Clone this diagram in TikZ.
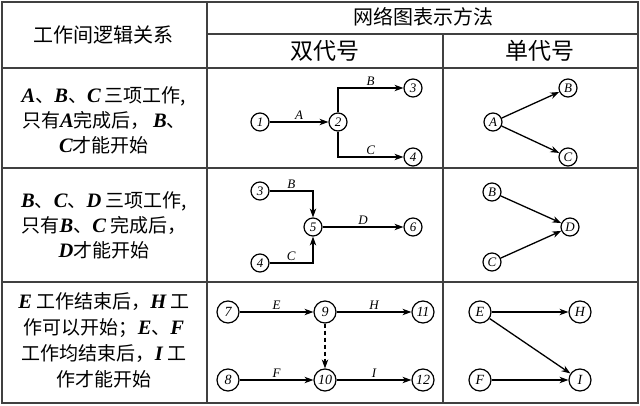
\documentclass[tikz,border=0pt]{standalone}
\usepackage{fontspec}
\setmainfont{Liberation Serif}
\newfontfamily\cjk{Noto Sans CJK SC}
\usetikzlibrary{arrows.meta}
\newcommand{\en}[1]{{\rmfamily\bfseries\itshape\fontsize{20.5}{25}\selectfont #1}}
\begin{document}
\begin{tikzpicture}[x=1pt,y=-1pt,
  grid/.style={draw=black!75, line width=1.6pt},
  ev/.style={circle, draw, line width=1.2pt, inner sep=0pt, minimum size=18pt, font=\fontsize{13}{13}\selectfont\itshape},
  evb/.style={ev, minimum size=22pt, font=\fontsize{14}{14}\selectfont\itshape},
  arr/.style={line width=1.3pt, -{Stealth[length=9pt,width=6.5pt]}},
  lab/.style={font=\fontsize{13}{13}\selectfont\itshape, inner sep=1.5pt, anchor=south},
  cell/.style={font=\cjk\fontsize{19}{25}\selectfont, align=center},
  head/.style={font=\cjk\fontsize{20}{24}\selectfont},
  headb/.style={font=\cjk\fontsize{23}{26}\selectfont}
]
\useasboundingbox (0,0) rectangle (640,406);
% grid
\draw[grid] (2,2) rectangle (638,403);
\draw[grid] (207,2) -- (207,403);
\draw[grid] (443,34) -- (443,403);
\draw[grid] (207,34) -- (638,34);
\draw[grid] (2,68) -- (638,68);
\draw[grid] (2,168) -- (638,168);
\draw[grid] (2,282) -- (638,282);
% header
\node[head] (h1) at (104,35) {工作间逻辑关系};
\node[head] (h2) at (423,17) {网络图表示方法};
\node[headb] (h3) at (325,51) {双代号};
\node[headb] (h4) at (540,51) {单代号};
% left column texts
\node[cell] (t1) at (104,120) {\en{A}、\en{B}、\en{C} 三项工作,\\只有\en{A}完成后，\,\en{B}、\\\en{C}才能开始};
\node[cell] (t2) at (104,225) {\en{B}、\en{C}、\en{D} 三项工作,\\只有\en{B}、\en{C} 完成后，\\\en{D}才能开始};
\node[cell, font=\cjk\fontsize{19}{26}\selectfont] (t3) at (104,340) {\en{E} 工作结束后，\en{H} 工\\作可以开始；\en{E}、\en{F}\\工作均结束后，\en{I} 工\\作才能开始};
% row 1 double
\node[ev] (a1) at (260,122) {1};
\node[ev] (a2) at (338,122) {2};
\node[ev] (a3) at (413,88) {3};
\node[ev] (a4) at (413,157) {4};
\draw[arr] (a1) -- node[lab]{A} (a2);
\draw[arr] (a2) |- node[lab,pos=0.75]{B} (a3);
\draw[arr] (a2) |- node[lab,pos=0.75]{C} (a4);
% row 1 single
\node[ev] (sA) at (493,122) {A};
\node[ev] (sB) at (568,88) {B};
\node[ev] (sC) at (568,157) {C};
\draw[arr] (sA) -- (sB);
\draw[arr] (sA) -- (sC);
% row 2 double
\node[ev] (b3) at (260,191) {3};
\node[ev] (b4) at (260,263) {4};
\node[ev] (b5) at (313,227) {5};
\node[ev] (b6) at (413,227) {6};
\draw[arr] (b3) -| node[lab,pos=0.25]{B} (b5);
\draw[arr] (b4) -| node[lab,pos=0.25]{C} (b5);
\draw[arr] (b5) -- node[lab]{D} (b6);
% row 2 single
\node[ev] (sB2) at (492,192) {B};
\node[ev] (sC2) at (492,262) {C};
\node[ev] (sD2) at (570,227) {D};
\draw[arr] (sB2) -- (sD2);
\draw[arr] (sC2) -- (sD2);
% row 3 double
\node[evb] (c7) at (228,312) {7};
\node[evb] (c9) at (325,312) {9};
\node[evb] (c11) at (423,312) {11};
\node[evb] (c8) at (228,380) {8};
\node[evb] (c10) at (325,380) {10};
\node[evb] (c12) at (423,380) {12};
\draw[arr] (c7) -- node[lab]{E} (c9);
\draw[arr] (c9) -- node[lab]{H} (c11);
\draw[arr] (c8) -- node[lab]{F} (c10);
\draw[arr] (c10) -- node[lab]{I} (c12);
\draw[arr, dashed, dash pattern=on 4pt off 3pt] (c9) -- (c10);
% row 3 single
\node[evb] (sE) at (480,312) {E};
\node[evb] (sH) at (580,312) {H};
\node[evb] (sF) at (480,380) {F};
\node[evb] (sI) at (580,380) {I};
\draw[arr] (sE) -- (sH);
\draw[arr] (sE) -- (sI);
\draw[arr] (sF) -- (sI);
\end{tikzpicture}
\end{document}
